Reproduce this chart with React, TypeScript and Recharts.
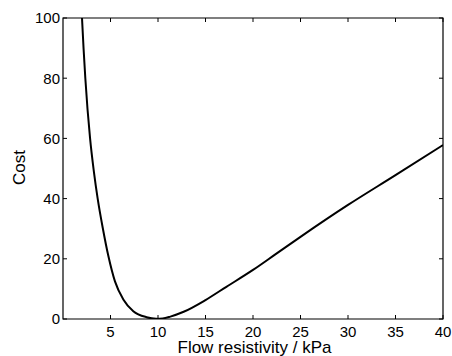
import { LineChart, Line, XAxis, YAxis, Label, ReferenceArea } from 'recharts'

// values
const resistivity = [1.9, 2.0, 2.35, 2.85, 3.25, 3.65, 4.2, 4.77, 5.47, 6.35, 7.4, 8.8, 9.8, 10.5, 11.3, 12.7, 15, 17.2, 20, 22.5, 25, 30, 35, 40]
const cost = [107, 100, 80, 60, 49, 40, 30, 21, 12.5, 6.5, 2.6, 0.6, 0.1, 0.2, 0.8, 2.4, 6.3, 10.7, 16.3, 21.8, 27.3, 37.9, 47.8, 57.8]
const xTicks = [5, 10, 15, 20, 25, 30, 35, 40]
const yTicks = [0, 20, 40, 60, 80, 100]

const data = resistivity.map((x, i) => ({ x, cost: cost[i] }))

const W = 444
const H = 348
const LEFT = 55
const TOP = 10
const RIGHT = W - 9
const BOTTOM = H - 37
const TICK = 4
const FONT = '"Liberation Sans", Arial, Helvetica, sans-serif'

const BottomTick = ({ x, payload }: any) => (
    <g>
        <path d={`M${x},${BOTTOM}v${-TICK}`} stroke="#000" strokeWidth={1} fill="none" />
        <text x={x} y={BOTTOM + 17.5} textAnchor="middle" fontSize={15} fontFamily={FONT} fill="#000" stroke="none">
            {payload.value}
        </text>
    </g>
)

const TopTick = ({ x }: any) => <path d={`M${x},${TOP}v${TICK}`} stroke="#000" strokeWidth={1} fill="none" />

const LeftTick = ({ y, payload }: any) => (
    <g>
        <path d={`M${LEFT},${y}h${TICK}`} stroke="#000" strokeWidth={1} fill="none" />
        <text x={LEFT - 3} y={y} dy="0.36em" textAnchor="end" fontSize={15} fontFamily={FONT} fill="#000" stroke="none">
            {payload.value}
        </text>
    </g>
)

const RightTick = ({ y }: any) => <path d={`M${RIGHT},${y}h${-TICK}`} stroke="#000" strokeWidth={1} fill="none" />

const XTitle = () => (
    <text x={246.5} y={345} textAnchor="middle" fontSize={17} fontFamily={FONT} fill="#000">
        Flow resistivity / kPa
    </text>
)

const YTitle = () => (
    <text x={17} y={159.5} transform="rotate(-90, 17, 159.5)" textAnchor="middle" fontSize={17} fontFamily={FONT} fill="#000">
        Cost
    </text>
)

export default function App() {
    return (
        <div style={{ position: 'fixed', left: 0, top: 0, width: 452, height: 356, padding: '8px 0 0 8px', boxSizing: 'border-box', background: '#fff' }}>
            <LineChart width={W} height={H} data={data} margin={{ top: TOP - 1, right: W - RIGHT - 1, bottom: 0, left: 0 }}>
                <XAxis
                    dataKey="x"
                    type="number"
                    domain={[0, 40]}
                    ticks={xTicks}
                    allowDataOverflow
                    height={H - BOTTOM}
                    tickLine={false}
                    tick={<BottomTick />}
                    axisLine={false}
                >
                    <Label content={<XTitle />} />
                </XAxis>
                <XAxis
                    xAxisId="top"
                    orientation="top"
                    dataKey="x"
                    type="number"
                    domain={[0, 40]}
                    ticks={xTicks}
                    allowDataOverflow
                    height={1}
                    tickLine={false}
                    tick={<TopTick />}
                    axisLine={false}
                />
                <YAxis
                    type="number"
                    domain={[0, 100]}
                    ticks={yTicks}
                    allowDataOverflow
                    width={LEFT}
                    tickLine={false}
                    tick={<LeftTick />}
                    axisLine={false}
                >
                    <Label content={<YTitle />} />
                </YAxis>
                <YAxis
                    yAxisId="right"
                    orientation="right"
                    type="number"
                    domain={[0, 100]}
                    ticks={yTicks}
                    allowDataOverflow
                    width={1}
                    tickLine={false}
                    tick={<RightTick />}
                    axisLine={false}
                />
                <ReferenceArea
                    x1={0}
                    x2={40}
                    y1={0}
                    y2={100}
                    fill="none"
                    fillOpacity={0}
                    stroke="#000"
                    strokeWidth={1.2}
                    ifOverflow="visible"
                />
                <Line
                    type="monotone"
                    dataKey="cost"
                    stroke="#000"
                    strokeWidth={2}
                    dot={false}
                    activeDot={false}
                    isAnimationActive={false}
                />
            </LineChart>
        </div>
    )
}
